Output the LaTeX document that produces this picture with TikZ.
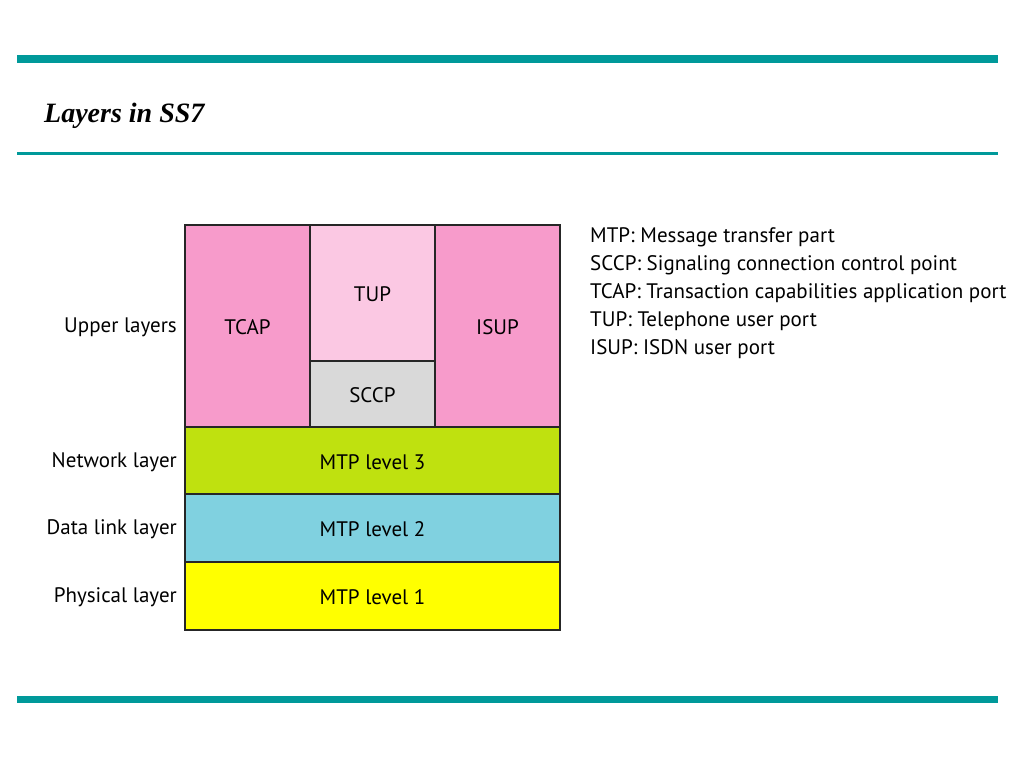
\documentclass[tikz,border=0pt]{standalone}
\usepackage{fontspec}
\setmainfont{PT Sans}
\newfontfamily\titlefont{Liberation Serif}
\definecolor{teal1}{HTML}{00999A}
\definecolor{pinkA}{HTML}{F79BCB}
\definecolor{pinkB}{HTML}{FBC8E3}
\definecolor{grayS}{HTML}{D9D9D9}
\definecolor{limeM}{HTML}{BFE10F}
\definecolor{blueM}{HTML}{80D1E0}
\definecolor{yelM}{HTML}{FFFF00}
\begin{document}
\begin{tikzpicture}[x=1pt,y=-1pt,
  blk/.style={draw=black!85,line width=1.2pt},
  lbl/.style={font=\fontsize{21}{24}\selectfont,inner sep=0pt},
  side/.style={lbl,anchor=east},
  leg/.style={lbl,anchor=west}]
\useasboundingbox (0,0) rectangle (1024,768);
\fill[teal1] (17,55) rectangle (998,63);
\fill[teal1] (17,152) rectangle (998,154.5);
\fill[teal1] (17,696) rectangle (998,703);
\node[anchor=west,inner sep=0pt,font=\titlefont\bfseries\itshape\fontsize{28}{31}\selectfont] (title) at (44,116) {Layers in SS7};
% blocks
\draw[blk,fill=pinkA] (185,225) rectangle (310,427);
\draw[blk,fill=pinkB] (310,225) rectangle (435,361);
\draw[blk,fill=grayS] (310,361) rectangle (435,427);
\draw[blk,fill=pinkA] (435,225) rectangle (560,427);
\draw[blk,fill=limeM] (185,427) rectangle (560,494);
\draw[blk,fill=blueM] (185,494) rectangle (560,562);
\draw[blk,fill=yelM] (185,562) rectangle (560,630);
\node[lbl] (tcap) at (247.5,327) {TCAP};
\node[lbl] (tup) at (372.5,294) {TUP};
\node[lbl] (sccp) at (372.5,395) {SCCP};
\node[lbl] (isup) at (497.5,327) {ISUP};
\node[lbl] (m3) at (372.5,462) {MTP level 3};
\node[lbl] (m2) at (372.5,529) {MTP level 2};
\node[lbl] (m1) at (372.5,597) {MTP level 1};
\node[side] (up) at (177,327) {Upper layers};
\node[side] (net) at (177,462) {Network layer};
\node[side] (dl) at (177,529) {Data link layer};
\node[side] (ph) at (177,597) {Physical layer};
\node[leg] (l1) at (590,237) {MTP: Message transfer part};
\node[leg] (l2) at (590,265) {SCCP: Signaling connection control point};
\node[leg] (l3) at (590,293) {TCAP: Transaction capabilities application port};
\node[leg] (l4) at (590,321) {TUP: Telephone user port};
\node[leg] (l5) at (590,349) {ISUP: ISDN user port};
\end{tikzpicture}
\end{document}
